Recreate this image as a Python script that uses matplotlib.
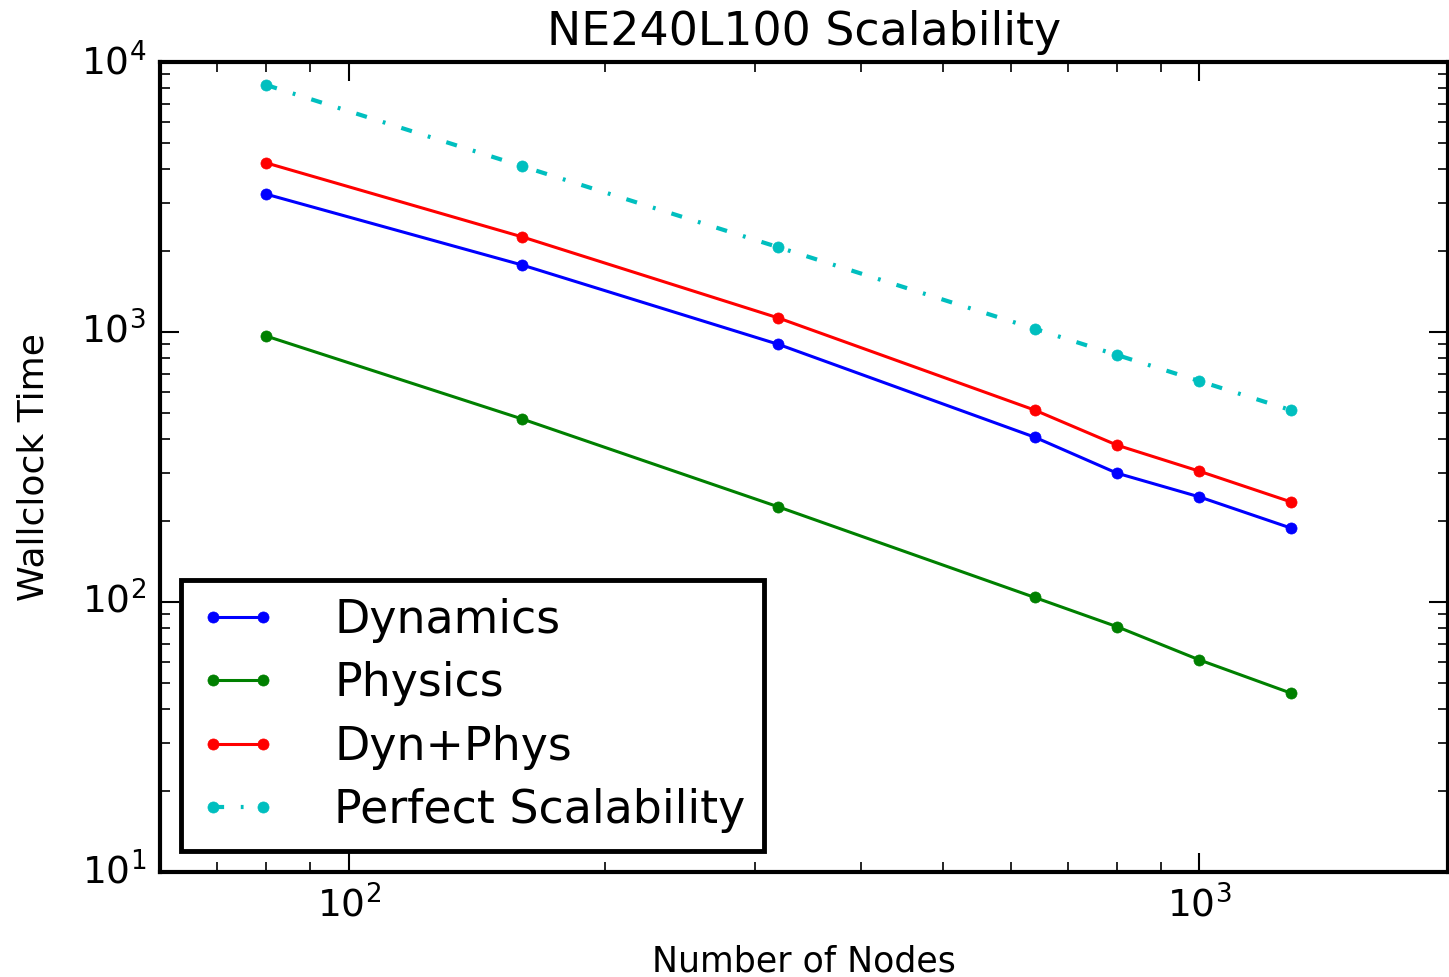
import matplotlib
matplotlib.use("Agg")
import matplotlib.pyplot as plt

# Nodes vs. wallclock time
nodes = [80, 160, 320, 640, 800, 1000, 1280]
dynamics = [3240, 1770, 900, 408, 300, 245, 188]
physics = [966, 476, 225, 104, 81, 61, 46]
dyn_phys = [4230, 2250, 1127, 514, 381, 305, 235]
perfect = [8220, 4110, 2060, 1028, 822, 658, 514]

plt.style.use('classic')

fig = plt.figure(figsize=(14.49, 9.77), dpi=100)
fig.patch.set_facecolor('white')
ax = fig.add_axes([0.1104, 0.1075, 0.889, 0.829])

ax.plot(nodes, dynamics, 'b-o', lw=2.2, ms=8, mec='b', label='Dynamics')
ax.plot(nodes, physics, 'g-o', lw=2.2, ms=8, mec='g', label='Physics')
ax.plot(nodes, dyn_phys, 'r-o', lw=2.2, ms=8, mec='r', label='Dyn+Phys')
ax.plot(nodes, perfect, 'c-.o', lw=3, ms=8, mec='c', dashes=(8, 12, 2, 12),
        label='Perfect Scalability')

ax.set_xscale('log')
ax.set_yscale('log')
ax.set_xlim(60, 1960)
ax.set_ylim(10, 10000)

for s in ax.spines.values():
    s.set_linewidth(3)
ax.tick_params(which='major', length=14, width=1.5, labelsize=27, pad=10)
ax.tick_params(which='minor', length=7, width=1.2)

ax.set_title('NE240L100 Scalability', fontsize=33, pad=12)
ax.set_xlabel('Number of Nodes', fontsize=25, labelpad=14)
ax.set_ylabel('Wallclock Time', fontsize=26, labelpad=22)

leg = ax.legend(loc='lower left', fontsize=33, numpoints=2, handlelength=1.7,
                handletextpad=1.25, labelspacing=0.4, borderpad=0.4,
                borderaxespad=0.45)
leg.get_frame().set_linewidth(3.5)
leg.get_frame().set_edgecolor('black')

plt.savefig('out.png', dpi=100, facecolor='white')
